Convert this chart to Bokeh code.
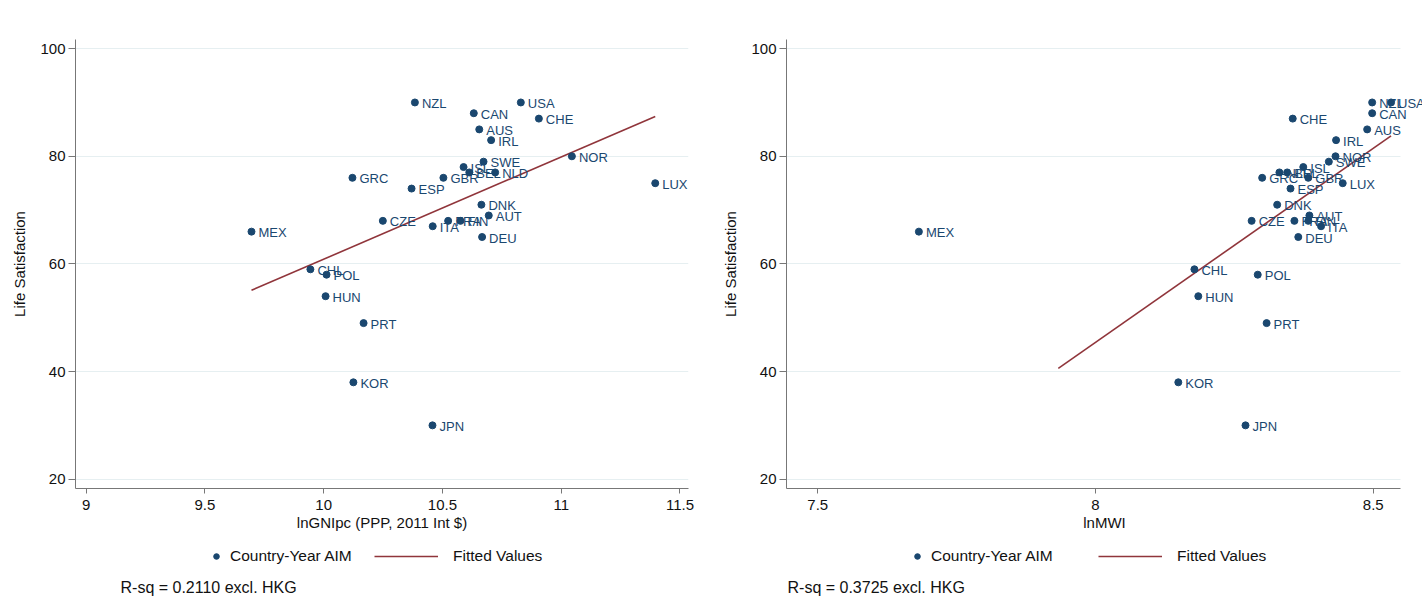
from bokeh.plotting import figure
from bokeh.models import (ColumnDataSource, Range1d, FixedTicker, Legend, LegendItem,
                          Label, NumeralTickFormatter)
from bokeh.layouts import row, column
from bokeh.embed import file_html
from bokeh.resources import INLINE
from bokeh.core.properties import value

# ---------------- data ----------------
countries = ["NZL", "USA", "CAN", "CHE", "AUS", "IRL", "NOR", "SWE", "ISL", "BEL",
             "NLD", "GBR", "GRC", "ESP", "LUX", "DNK", "AUT", "CZE", "FRA", "FIN",
             "ITA", "DEU", "MEX", "CHL", "POL", "HUN", "PRT", "KOR", "JPN"]
life_sat = [90, 90, 88, 87, 85, 83, 80, 79, 78, 77,
            77, 76, 76, 74, 75, 71, 69, 68, 68, 68,
            67, 65, 66, 59, 58, 54, 49, 38, 30]
ln_gni = [10.384, 10.830, 10.632, 10.906, 10.655, 10.705, 11.045, 10.673, 10.589, 10.613,
          10.722, 10.504, 10.121, 10.370, 11.396, 10.664, 10.695, 10.249, 10.524, 10.576,
          10.459, 10.667, 9.696, 9.944, 10.012, 10.008, 10.168, 10.125, 10.458]
ln_mwi = [8.498, 8.532, 8.498, 8.355, 8.489, 8.433, 8.432, 8.420, 8.374, 8.345,
          8.331, 8.383, 8.300, 8.351, 8.445, 8.327, 8.385, 8.281, 8.358, 8.383,
          8.406, 8.365, 7.682, 8.178, 8.292, 8.185, 8.308, 8.149, 8.270]

fit_gni_x = [9.696, 11.396]
fit_gni_y = [55.1, 87.4]
fit_mwi_x = [7.933, 8.532]
fit_mwi_y = [40.6, 83.8]

gni_ticks = [9, 9.5, 10, 10.5, 11, 11.5]
mwi_ticks = [7.5, 8, 8.5]
y_ticks = [20, 40, 60, 80, 100]

legend_labels = ["Country-Year AIM", "Fitted Values"]
rsq_gni = "R-sq = 0.2110 excl. HKG"
rsq_mwi = "R-sq = 0.3725 excl. HKG"

NAVY = "#1a476f"
MAROON = "#90353b"
FONT = "Liberation Sans"


def make_panel(src, fit_src, view, bounds, xticks, xlabel, width, bl, br):
    p = figure(width=width, height=539, x_range=Range1d(*view),
               y_range=Range1d(18.27, 101.7), output_backend="svg",
               toolbar_location=None, title=None,
               min_border_left=bl, min_border_right=br,
               min_border_top=39, min_border_bottom=51)
    p.outline_line_color = None

    p.line("x", "y", source=fit_src, line_color=MAROON, line_width=1.6)
    p.scatter("x", "y", source=src, size=7, fill_color=NAVY, line_color=NAVY)
    p.text("x", "y", text="name", source=src, x_offset=7, y_offset=1,
           text_font=value(FONT), text_font_size="13px", text_color=NAVY,
           text_baseline="middle", text_align="left")

    p.xgrid.visible = False
    g = p.ygrid[0]
    g.ticker = FixedTicker(ticks=y_ticks)
    g.grid_line_color = "#e6eff1"
    g.grid_line_width = 1.2
    try:
        g.cross_bounds = bounds
    except AttributeError:
        pass

    for ax in (p.xaxis[0], p.yaxis[0]):
        ax.axis_line_color = "#777777"
        ax.major_tick_line_color = "#777777"
        ax.minor_tick_line_color = None
        ax.major_tick_in = 0
        ax.major_label_text_font = FONT
        ax.major_label_text_font_size = "15px"
        ax.major_label_text_color = "#111111"
        ax.axis_label_text_font = FONT
        ax.axis_label_text_font_size = "15px"
        ax.axis_label_text_font_style = "normal"
        ax.axis_label_text_color = "#111111"

    p.xaxis.ticker = FixedTicker(ticks=xticks)
    p.xaxis.formatter = NumeralTickFormatter(format="0.[0]")
    p.xaxis.bounds = bounds
    p.xaxis.major_tick_out = 5
    p.xaxis.major_label_standoff = 6
    p.xaxis.axis_label = xlabel
    p.xaxis.axis_label_standoff = 1

    p.yaxis.ticker = FixedTicker(ticks=y_ticks)
    p.yaxis.major_tick_out = 7
    p.yaxis.major_label_standoff = 3
    p.yaxis.axis_label = "Life Satisfaction"
    p.yaxis.axis_label_standoff = 9
    return p


def make_key(src, fit_src, view, width, x_pts, x_line, rsq, x_rsq):
    # key strip under a panel; its glyphs use the panel's data but lie outside
    # this strip's y range, so only the legend and the note are visible
    k = figure(width=width, height=58, x_range=Range1d(*view), y_range=Range1d(0, 1),
               output_backend="svg", toolbar_location=None, title=None,
               x_axis_location=None, y_axis_location=None, min_border=0)
    k.outline_line_color = None
    k.xgrid.visible = False
    k.ygrid.visible = False
    s = k.scatter("x", "y", source=src, size=7, fill_color=NAVY, line_color=NAVY)
    l = k.line("x", "y", source=fit_src, line_color=MAROON, line_width=1.6)
    common = dict(orientation="horizontal", border_line_color=None,
                  background_fill_alpha=0, label_text_font=FONT,
                  label_text_font_size="15.5px", label_text_color="#111111",
                  glyph_height=16, padding=4, margin=0)
    leg1 = Legend(items=[LegendItem(label=legend_labels[0], renderers=[s])],
                  location=(x_pts, 32), glyph_width=14, label_standoff=7, **common)
    leg2 = Legend(items=[LegendItem(label=legend_labels[1], renderers=[l])],
                  location=(x_line, 32), glyph_width=64, label_standoff=15, **common)
    k.add_layout(leg1)
    k.add_layout(leg2)
    k.add_layout(Label(x=x_rsq, y=10, x_units="screen", y_units="screen", text=rsq,
                       text_font=FONT, text_font_size="16px", text_color="#111111",
                       text_baseline="middle", text_align="left"))
    return k


src_gni = ColumnDataSource(dict(x=ln_gni, y=life_sat, name=countries))
src_mwi = ColumnDataSource(dict(x=ln_mwi, y=life_sat, name=countries))
fit_gni = ColumnDataSource(dict(x=fit_gni_x, y=fit_gni_y))
fit_mwi = ColumnDataSource(dict(x=fit_mwi_x, y=fit_mwi_y))

gni_axis = (8.955, 11.536)
gni_view = (8.955, 11.536)
mwi_axis = (7.4437, 8.549)
mwi_view = (7.4437, 8.5886)   # a little room on the right for the labels

left = make_panel(src_gni, fit_gni, gni_view, gni_axis, gni_ticks,
                  "lnGNIpc (PPP, 2011 Int $)", 711, 75, 23)
right = make_panel(src_mwi, fit_mwi, mwi_view, mwi_axis, mwi_ticks,
                   "lnMWI", 711, 75, 0)
key_left = make_key(src_gni, fit_gni, gni_view, 711, 209, 374, rsq_gni, 120)
key_right = make_key(src_mwi, fit_mwi, mwi_view, 711, 199, 387, rsq_mwi, 76)

layout = column(row(left, right), row(key_left, key_right), spacing=0)
open("out.html", "w").write(file_html(layout, INLINE))
